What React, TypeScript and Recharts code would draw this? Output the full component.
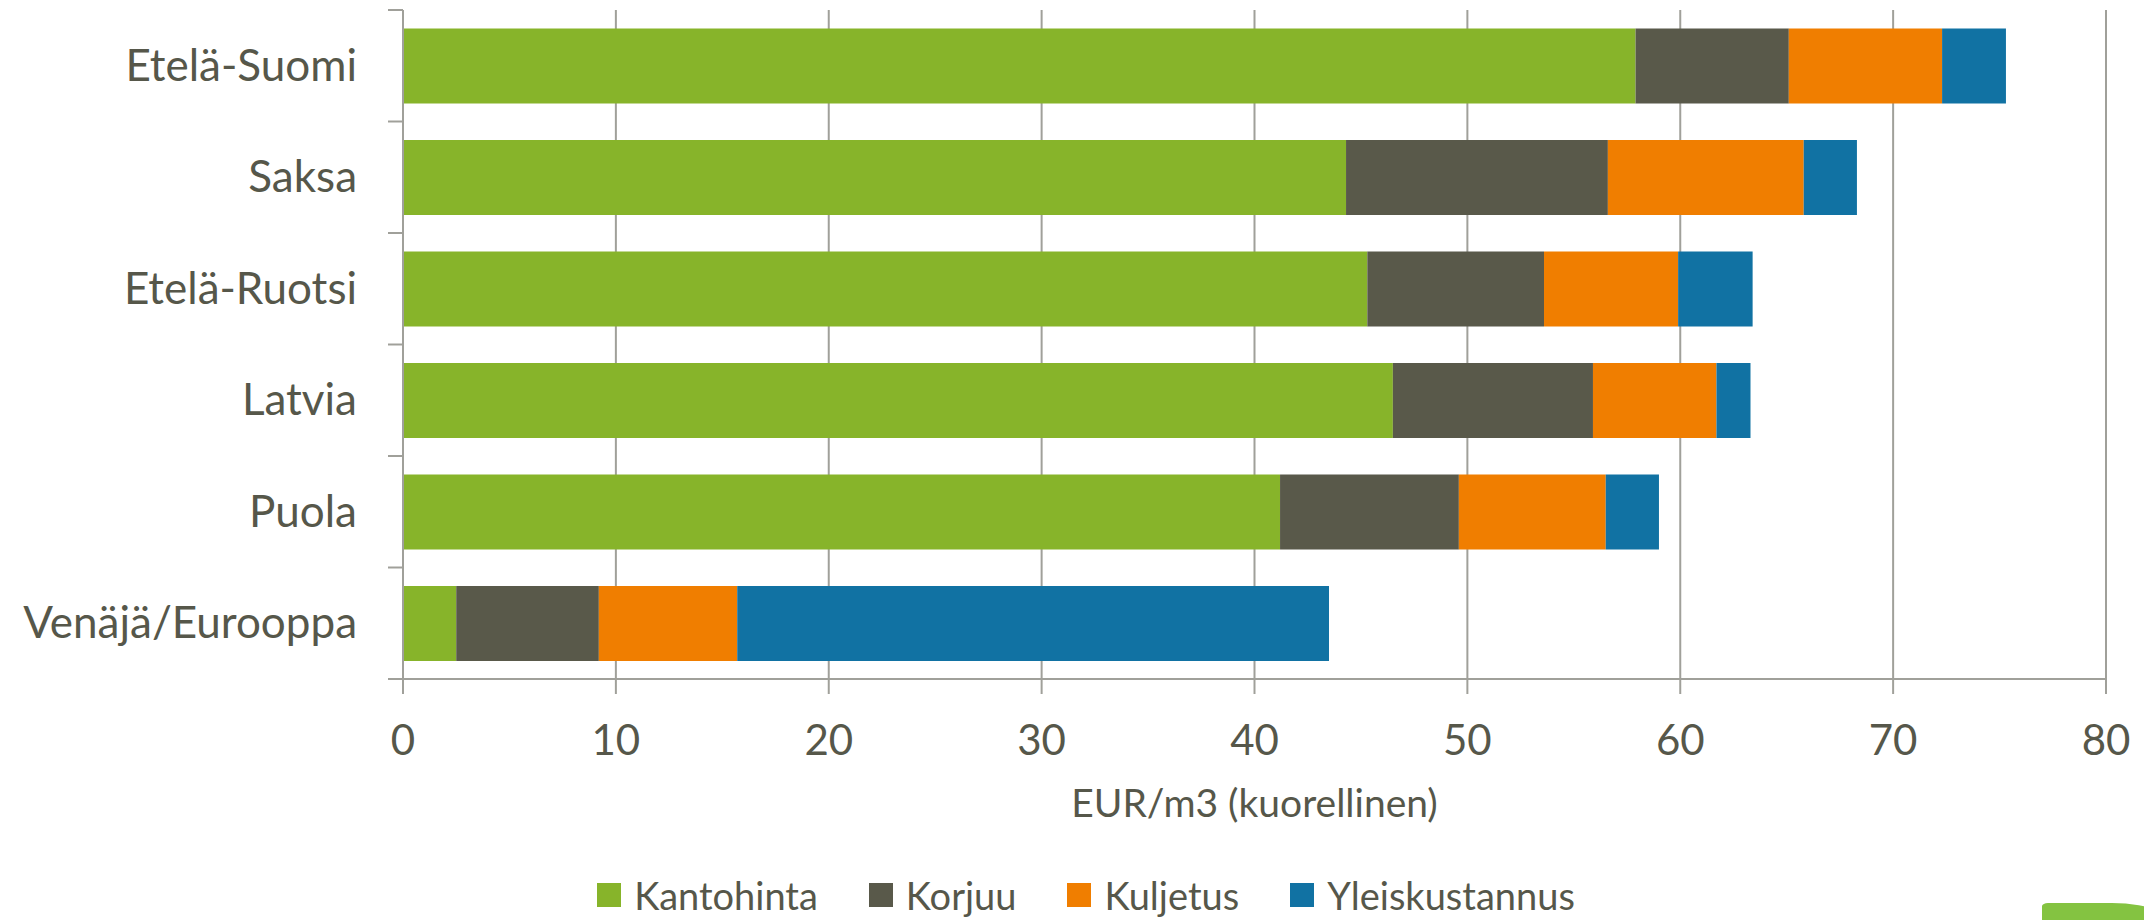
import React from "react";
import { BarChart, Bar, XAxis, YAxis, CartesianGrid, Legend, Label } from "recharts";

const categories = ["Etelä-Suomi", "Saksa", "Etelä-Ruotsi", "Latvia", "Puola", "Venäjä/Eurooppa"];
const kantohinta = [57.9, 44.3, 45.3, 46.5, 41.2, 2.5];
const korjuu = [7.2, 12.3, 8.3, 9.4, 8.4, 6.7];
const kuljetus = [7.2, 9.2, 6.3, 5.8, 6.9, 6.5];
const yleiskustannus = [3.0, 2.5, 3.5, 1.6, 2.5, 27.8];
const xTicks = [0, 10, 20, 30, 40, 50, 60, 70, 80];
const seriesKeys = ["kantohinta", "korjuu", "kuljetus", "yleiskustannus"];
const seriesNames = ["Kantohinta", "Korjuu", "Kuljetus", "Yleiskustannus"];
const seriesColors = ["#87B42A", "#59594A", "#F07E00", "#1172A3"];
const axisTitle = "EUR/m3 (kuorellinen)";

const data = categories.map((name, i) => ({
  name,
  kantohinta: kantohinta[i],
  korjuu: korjuu[i],
  kuljetus: kuljetus[i],
  yleiskustannus: yleiskustannus[i],
}));

const W = 2144;
const H = 920;
const MARGIN = { top: 10, right: 38, bottom: 91, left: 0 };
const Y_AXIS_W = 403;
const X_AXIS_H = 150;
const PLOT_H = H - MARGIN.top - MARGIN.bottom - X_AXIS_H;
const PLOT_LEFT = MARGIN.left + Y_AXIS_W;
const FONT = "Lato, 'Open Sans', sans-serif";
const TEXT = "#56574A";
const GRID = "#A0A09A";

const CategoryTick = (props: any) => {
  const { y, payload, index } = props;
  const band = PLOT_H / categories.length;
  return (
    <g>
      <line x1={PLOT_LEFT - 15} x2={PLOT_LEFT} y1={y - band / 2} y2={y - band / 2} stroke={GRID} strokeWidth={2} />
      {index === categories.length - 1 && (
        <line x1={PLOT_LEFT - 15} x2={PLOT_LEFT} y1={y + band / 2} y2={y + band / 2} stroke={GRID} strokeWidth={2} />
      )}
      <text x={PLOT_LEFT - 46} y={y + 15} textAnchor="end" fill={TEXT} fontSize={44} fontFamily={FONT}>
        {payload.value}
      </text>
    </g>
  );
};

const LegendContent = () => (
  <div
    style={{
      display: "flex",
      justifyContent: "center",
      alignItems: "center",
      paddingLeft: 28,
      fontFamily: FONT,
      fontSize: 38,
      color: TEXT,
    }}
  >
    {seriesNames.map((n, i) => (
      <div key={n} style={{ display: "flex", alignItems: "center", marginRight: i < seriesNames.length - 1 ? 51 : 0 }}>
        <div style={{ width: 24, height: 24, background: seriesColors[i], marginRight: 13 }} />
        <span style={{ lineHeight: "40px" }}>{n}</span>
      </div>
    ))}
  </div>
);

export default function App() {
  return (
    <div style={{ position: "absolute", left: 0, top: 0, width: W, height: H, overflow: "hidden", background: "#fff" }}>
      <BarChart width={W} height={H} data={data} layout="vertical" margin={MARGIN} barCategoryGap="16.5%">
        <CartesianGrid vertical={true} horizontal={false} stroke={GRID} strokeWidth={2} />
        <XAxis
          type="number"
          domain={[0, 80]}
          ticks={xTicks}
          interval={0}
          height={X_AXIS_H}
          tickSize={15}
          tickMargin={31}
          axisLine={{ stroke: GRID, strokeWidth: 2 }}
          tickLine={{ stroke: GRID, strokeWidth: 2 }}
          tick={{ fill: TEXT, fontSize: 42, fontFamily: FONT }}
        >
          <Label value={axisTitle} position="insideBottom" offset={12} fill={TEXT} fontSize={39} fontFamily={FONT} />
        </XAxis>
        <YAxis
          type="category"
          dataKey="name"
          width={Y_AXIS_W}
          interval={0}
          tickLine={false}
          axisLine={{ stroke: GRID, strokeWidth: 2 }}
          tick={<CategoryTick />}
        />
        <Legend
          layout="horizontal"
          verticalAlign="middle"
          align="center"
          wrapperStyle={{ left: 0, top: 875, width: W, height: 40 }}
          content={<LegendContent />}
        />
        {seriesKeys.map((k, i) => (
          <Bar key={k} dataKey={k} name={seriesNames[i]} stackId="a" fill={seriesColors[i]} isAnimationActive={false} />
        ))}
      </BarChart>
      <div
        style={{
          position: "absolute",
          left: 2042,
          top: 903,
          width: 140,
          height: 80,
          background: "#84C341",
          borderTopLeftRadius: "6px 3px",
          borderTopRightRadius: "70px 30px",
        }}
      />
    </div>
  );
}
